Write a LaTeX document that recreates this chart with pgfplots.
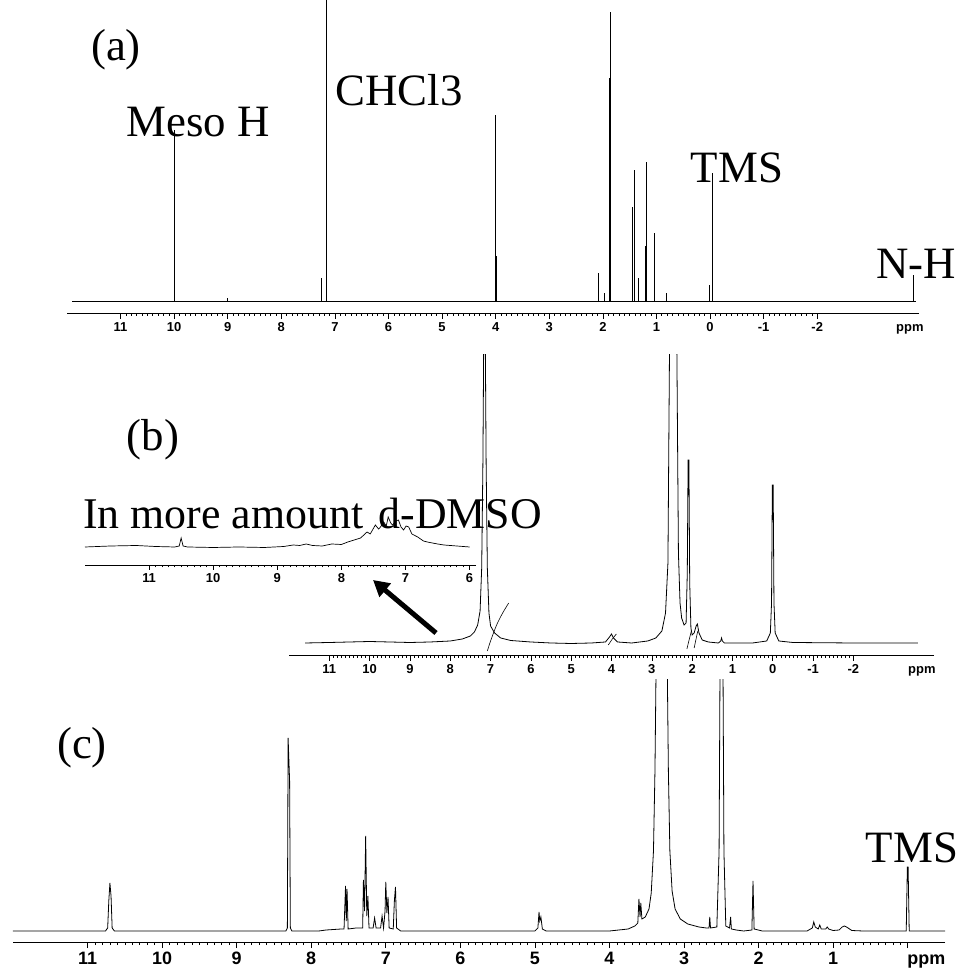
\documentclass[border=0pt]{standalone}
\usepackage{fontspec}
\setmainfont{Liberation Serif}
\setsansfont{Liberation Sans}
\usepackage{pgfplots}
\pgfplotsset{compat=1.18}
\usetikzlibrary{arrows.meta}

\pgfplotsset{
  nmr/.style={
    scale only axis, anchor=south west,
    x dir=reverse,
    axis x line*=bottom, axis y line=none,
    axis line style={black, line width=0.8bp},
    tick align=outside,
    major tick length=6bp, minor tick length=3bp,
    minor x tick num=9,
    tick style={black, line width=0.6bp},
    typeset ticklabels with strut,
    extra x tick style={tick style={draw=none}},
  },
  spec/.style={black, line width=0.8bp, no marks},
}
\newcommand{\anno}{\fontsize{45}{48}\selectfont}

\begin{document}
\begin{tikzpicture}[x=1bp, y=1bp]
\path[use as bounding box] (0,0) rectangle (959,969);

% ---------------- (a) CDCl3 spectrum ----------------
\begin{axis}[nmr, at={(67bp,656bp)}, width=852bp, height=313bp,
  xmin=-3.9, xmax=12, ymin=-12, ymax=301,
  xtick={-2,-1,0,1,2,3,4,5,6,7,8,9,10,11},
  xticklabels={-2,-1,0,1,2,3,4,5,6,7,8,9,10,11},
  xticklabel style={font=\sffamily\bfseries\fontsize{13}{13}\selectfont},
  extra x ticks={-3.73}, extra x tick labels={ppm}]
\addplot[spec] coordinates {(11.9,0) (-3.85,0)};
\addplot[spec, ycomb] coordinates {
  (10.00,171) (9.00,3) (7.26,23) (7.16,330) (4.00,186) (3.98,45)
  (2.09,28) (1.98,8) (1.87,223) (1.85,289) (1.44,94) (1.42,131)
  (1.34,23) (1.20,55) (1.18,139) (1.04,68) (0.82,8)
  (0.02,16) (-0.05,128) (-0.04,48) (-3.79,26)};
\end{axis}

% ---------------- (b) d-DMSO spectrum ----------------
\begin{axis}[nmr, at={(289bp,314bp)}, width=645bp, height=300bp,
  xmin=-4, xmax=12, ymin=-12, ymax=288,
  xtick={-2,-1,0,1,2,3,4,5,6,7,8,9,10,11},
  xticklabels={-2,-1,0,1,2,3,4,5,6,7,8,9,10,11},
  xticklabel style={font=\sffamily\bfseries\fontsize{13}{13}\selectfont},
  extra x ticks={-3.7}, extra x tick labels={ppm}]
\addplot[spec] coordinates {
  (11.6,0) (11.0,0.5) (10.5,1) (10.0,1.5) (9.5,1) (9.0,0.5) (8.5,1) (8.0,2)
  (7.7,4) (7.5,7) (7.4,11) (7.32,18) (7.26,32) (7.22,75) (7.19,180) (7.17,300)
  (7.13,300) (7.11,180) (7.08,75) (7.04,30) (7.0,17) (6.9,10) (6.75,5) (6.5,2.5)
  (6.0,1) (5.5,0) (5.0,-0.5) (4.5,0) (4.15,1) (4.05,6) (4.0,9) (3.95,5) (3.85,1)
  (3.5,0) (3.1,2) (2.9,5) (2.75,12) (2.66,30) (2.6,80) (2.56,300) (2.38,300)
  (2.34,90) (2.3,40) (2.26,25) (2.2,18) (2.15,20) (2.12,70) (2.1,183) (2.08,183)
  (2.06,60) (2.03,15) (2.0,8) (1.95,10) (1.9,17) (1.87,19) (1.83,10) (1.75,3)
  (1.6,1) (1.35,0) (1.29,2) (1.27,5) (1.25,2) (1.2,0) (0.5,0) (0.15,2) (0.06,10)
  (0.03,40) (0.01,158) (-0.01,158) (-0.03,40) (-0.06,10) (-0.15,2) (-0.5,0.5)
  (-2,0) (-3.6,0)};
% integral traces
\addplot[spec, line width=0.6bp, smooth] coordinates {(7.08,-8) (7.0,2) (6.85,18) (6.7,30) (6.55,40)};
\addplot[spec, line width=0.6bp] coordinates {(4.08,-2) (3.98,4) (3.88,9)};
\addplot[spec, line width=0.6bp] coordinates {(2.13,-6) (2.02,12)};
\addplot[spec, line width=0.6bp] coordinates {(1.95,-5) (1.86,12)};
\end{axis}

% inset: aromatic region recorded with more d-DMSO
\begin{axis}[nmr, at={(85bp,404bp)}, width=391bp, height=58bp,
  xmin=5.9, xmax=12, ymin=-18, ymax=40,
  xtick={6,7,8,9,10,11},
  xticklabels={6,7,8,9,10,11},
  xticklabel style={font=\sffamily\bfseries\fontsize{13}{13}\selectfont},
  major tick length=5bp, minor tick length=2.5bp]
\addplot[spec, line width=0.7bp] coordinates {
  (12.0,0) (11.6,1) (11.2,1.5) (10.9,0.5) (10.6,0) (10.53,1) (10.5,9) (10.47,1)
  (10.4,0) (10.0,-0.5) (9.6,0) (9.2,-0.5) (8.9,0.5) (8.75,2) (8.65,1.5) (8.55,3)
  (8.45,1.5) (8.3,1) (8.15,3) (8.0,2.5) (7.9,5) (7.8,7) (7.7,9) (7.6,15)
  (7.55,13) (7.47,22) (7.42,18) (7.39,20) (7.34,25) (7.3,21) (7.27,30) (7.23,24)
  (7.2,22) (7.15,26) (7.11,27) (7.07,20) (7.03,17) (6.99,21) (6.95,20) (6.9,13)
  (6.81,10) (6.72,6) (6.66,5) (6.5,3) (6.4,2) (6.2,1) (6.0,0)};
\end{axis}

% ---------------- (c) spectrum ----------------
\begin{axis}[nmr, at={(13bp,27bp)}, width=932bp, height=262bp,
  xmin=-0.5, xmax=12, ymin=-11, ymax=251,
  xtick={0,1,2,3,4,5,6,7,8,9,10,11},
  xticklabels={,1,2,3,4,5,6,7,8,9,10,11},
  xticklabel style={font=\sffamily\bfseries\fontsize{18}{18}\selectfont},
  extra x ticks={-0.25}, extra x tick labels={ppm}]
\addplot[spec] coordinates {
  (12.0,0) (11.0,0) (10.76,0) (10.73,3) (10.715,30) (10.70,48) (10.685,35)
  (10.67,3) (10.64,0) (9.5,0) (8.8,0) (8.34,0) (8.32,3) (8.31,193) (8.29,150)
  (8.28,3) (8.26,0) (7.9,0) (7.8,1) (7.6,2) (7.56,2) (7.54,45) (7.53,10)
  (7.52,42) (7.505,2) (7.4,3) (7.31,3) (7.30,51) (7.285,20) (7.27,95) (7.255,15)
  (7.24,35) (7.225,3) (7.17,3) (7.15,13) (7.13,3) (7.07,3) (7.05,15) (7.03,3)
  (7.01,20) (7.0,49) (6.985,18) (6.97,34) (6.955,3) (6.9,2) (6.885,30) (6.87,44)
  (6.855,3) (6.8,0) (6.0,0) (5.0,0) (4.96,3) (4.945,19) (4.935,10) (4.92,14)
  (4.90,2) (4.85,0) (4.0,0) (3.75,2) (3.66,5) (3.62,8) (3.605,32) (3.59,14)
  (3.58,28) (3.565,12) (3.52,14) (3.47,22) (3.44,38) (3.41,80) (3.39,160)
  (3.37,300) (3.23,300) (3.21,160) (3.19,80) (3.16,40) (3.12,22) (3.05,12)
  (2.95,7) (2.8,4) (2.7,3) (2.665,3) (2.655,14) (2.645,3) (2.56,4) (2.53,80)
  (2.515,300) (2.48,300) (2.465,80) (2.44,5) (2.39,3) (2.375,14) (2.365,2)
  (2.3,1) (2.2,0) (2.09,1) (2.075,50) (2.06,2) (1.95,0) (1.35,0) (1.28,3)
  (1.26,9) (1.24,4) (1.2,2) (1.18,6) (1.16,2) (1.1,2) (1.08,4) (1.06,2) (1.0,0.5)
  (0.92,1) (0.88,4) (0.85,5) (0.82,4) (0.75,0.5) (0.6,0) (0.02,0) (0.005,64)
  (-0.005,64) (-0.02,0) (-0.5,0)};
\end{axis}

% ---------------- annotations ----------------
\node[font=\anno] at (116,919) {(a)};
\node[font=\anno] at (198,847) {Meso H};
\node[font=\anno] at (399,879) {CHCl3};
\node[font=\anno] at (737,801) {TMS};
\node[font=\anno] at (916,705) {N-H};
\node[font=\anno] at (153,529) {(b)};
\node[font=\fontsize{44}{48}\selectfont, anchor=west, inner sep=0pt] at (83,455) {In more amount\hspace{0.1em} d-DMSO};
\draw[line width=5bp, -{Triangle[length=16bp, width=17bp]}] (436,336) -- (373,389);
\node[font=\anno] at (82,221) {(c)};
\node[font=\anno] at (912,121) {TMS};
\end{tikzpicture}
\end{document}
